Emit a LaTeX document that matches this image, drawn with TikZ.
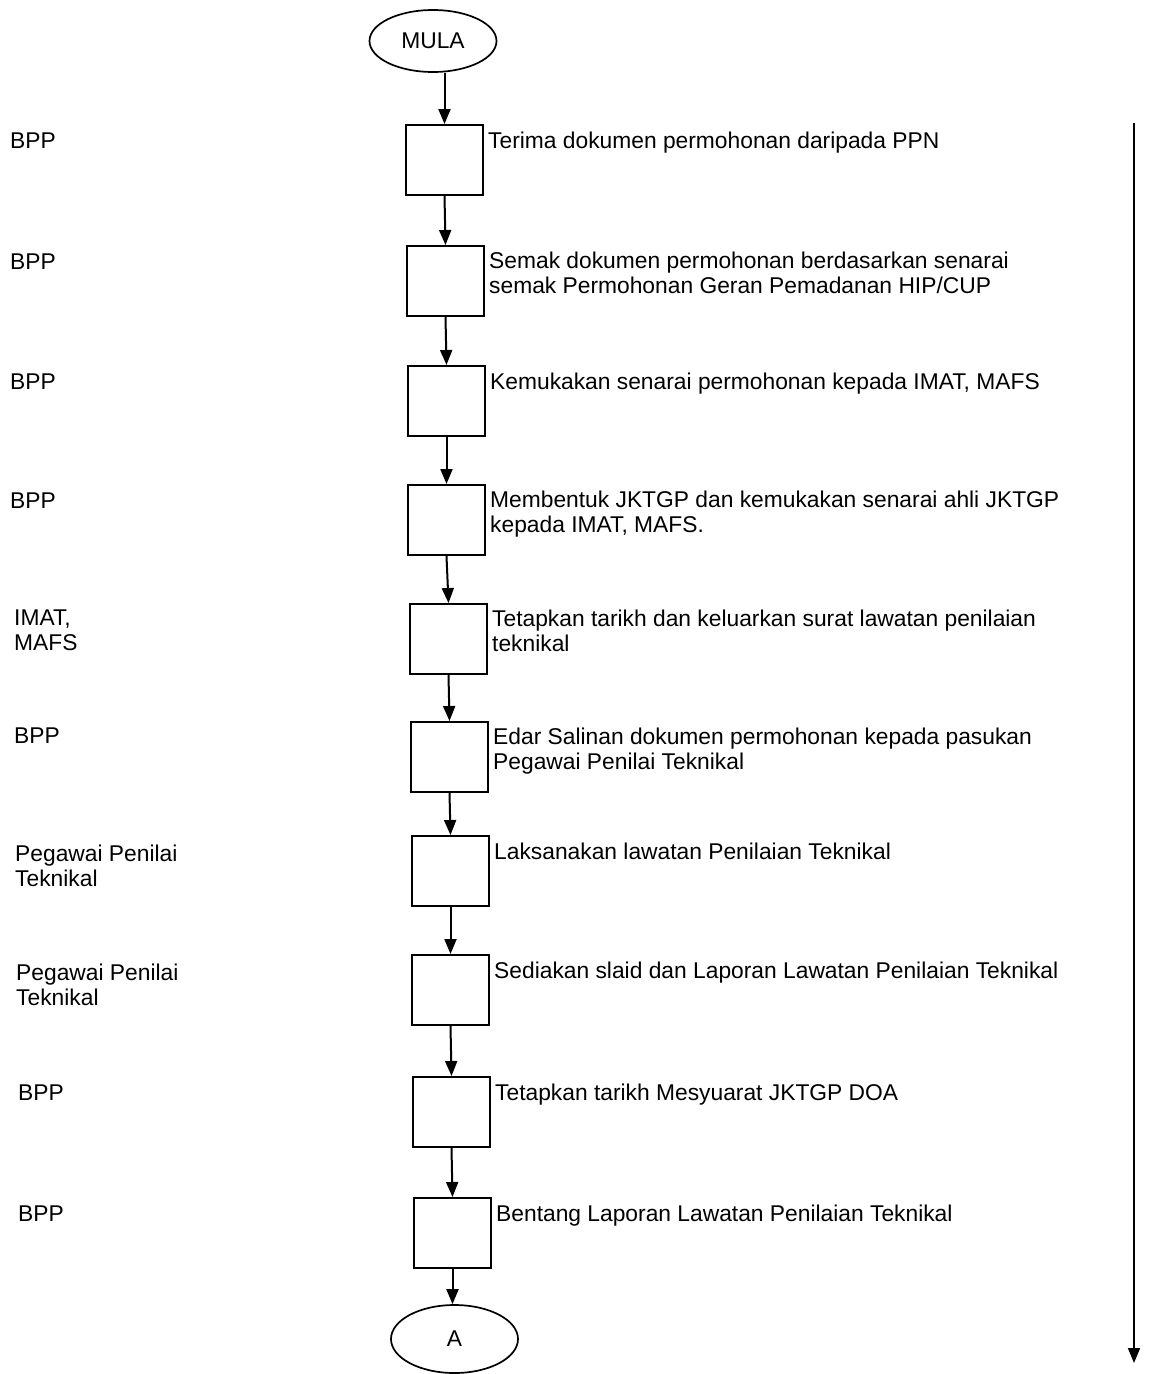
\documentclass[tikz,border=0pt]{standalone}
\usepackage{fontspec}
\setmainfont{Liberation Sans}
\usetikzlibrary{arrows.meta,shapes.geometric}
\begin{document}
\begin{tikzpicture}[x=1pt,y=-1pt,
  every node/.style={font=\fontsize{22.8}{25}\selectfont},
  stepbox/.style={draw,line width=2pt,minimum width=77pt,minimum height=70pt,inner sep=0pt},
  term/.style={draw,ellipse,line width=1.7pt,inner sep=0pt},
  desc/.style={anchor=north west,align=left,inner sep=0pt,execute at begin node=\strut,xshift=4pt,yshift=-7pt},
  who/.style={anchor=north west,align=left,inner sep=0pt,execute at begin node=\strut},
  flow/.style={line width=2pt,-{Triangle[width=12pt,length=15pt]}}
]
\useasboundingbox (0,0) rectangle (1155,1374);
\node[term,minimum width=127pt,minimum height=62pt] (start) at (433,41) {MULA};
\node[stepbox] (b1) at (444.5,160) {};
\node[stepbox] (b2) at (445.5,281) {};
\node[stepbox] (b3) at (446.5,401) {};
\node[stepbox] (b4) at (446.5,520) {};
\node[stepbox] (b5) at (448.5,639) {};
\node[stepbox] (b6) at (449.5,757) {};
\node[stepbox] (b7) at (450.5,871) {};
\node[stepbox] (b8) at (450.5,990) {};
\node[stepbox] (b9) at (451.5,1112) {};
\node[stepbox] (b10) at (452.5,1233) {};
\node[term,minimum width=127pt,minimum height=68pt] (endA) at (454.5,1339) {A};

\node[desc] (t1) at (b1.north east) {Terima dokumen permohonan daripada PPN};
\node[desc] (t2) at (b2.north east) {Semak dokumen permohonan berdasarkan senarai\\semak Permohonan Geran Pemadanan HIP/CUP};
\node[desc] (t3) at (b3.north east) {Kemukakan senarai permohonan kepada IMAT, MAFS};
\node[desc] (t4) at (b4.north east) {Membentuk JKTGP dan kemukakan senarai ahli JKTGP\\kepada IMAT, MAFS.};
\node[desc] (t5) at (b5.north east) {Tetapkan tarikh dan keluarkan surat lawatan penilaian\\teknikal};
\node[desc] (t6) at (b6.north east) {Edar Salinan dokumen permohonan kepada pasukan\\Pegawai Penilai Teknikal};
\node[desc] (t7) at (b7.north east) {Laksanakan lawatan Penilaian Teknikal};
\node[desc] (t8) at (b8.north east) {Sediakan slaid dan Laporan Lawatan Penilaian Teknikal};
\node[desc] (t9) at (b9.north east) {Tetapkan tarikh Mesyuarat JKTGP DOA};
\node[desc] (t10) at (b10.north east) {Bentang Laporan Lawatan Penilaian Teknikal};

\node[who] (w1) at (10,131) {BPP};
\node[who] (w2) at (10,252) {BPP};
\node[who] (w3) at (10,372) {BPP};
\node[who] (w4) at (10,491) {BPP};
\node[who] (w5) at (14,610) {IMAT,\\MAFS};
\node[who] (w6) at (14,726) {BPP};
\node[who] (w7) at (15,845) {Pegawai Penilai\\Teknikal};
\node[who] (w8) at (16,964) {Pegawai Penilai\\Teknikal};
\node[who] (w9) at (18,1083) {BPP};
\node[who] (w10) at (18,1204) {BPP};

\draw[flow] (b1.north |- start.south) -- (b1.north);
\draw[flow] (b1.south) -- (b2.north);
\draw[flow] (b2.south) -- (b3.north);
\draw[flow] (b3.south) -- (b4.north);
\draw[flow] (b4.south) -- (b5.north);
\draw[flow] (b5.south) -- (b6.north);
\draw[flow] (b6.south) -- (b7.north);
\draw[flow] (b7.south) -- (b8.north);
\draw[flow] (b8.south) -- (b9.north);
\draw[flow] (b9.south) -- (b10.north);
\draw[flow] (b10.south) -- (b10.south |- endA.north);

\coordinate (rtop) at (1134,123);
\coordinate (rbot) at (1134,1363);
\draw[flow,line width=1.6pt] (rtop) -- (rbot);
\end{tikzpicture}
\end{document}
